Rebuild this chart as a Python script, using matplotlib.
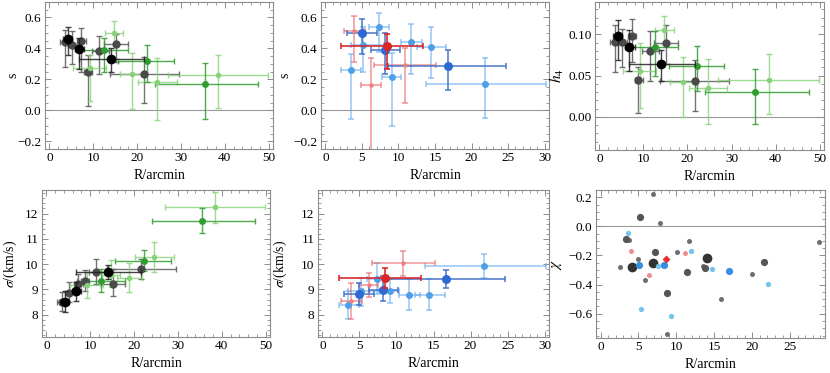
import matplotlib
matplotlib.use("Agg")
import matplotlib.pyplot as plt
from matplotlib.ticker import AutoMinorLocator, MultipleLocator
import numpy as np

plt.rcParams['font.family'] = ['Liberation Serif', 'DejaVu Serif']
plt.rcParams['mathtext.fontset'] = 'stix'

# ---------------- data: left/right panels (R in arcmin) ----------------
# black (large) group
B_R = [4.2, 6.8, 14.1]
B_Rlo = [3.2, 5.9, 6.8]
B_Rhi = [5.2, 8.0, 21.6]
B_s = [0.459, 0.395, 0.331]
B_s_lo = [0.355, 0.27, 0.245]
B_s_hi = [0.537, 0.47, 0.405]
B_h4 = [0.0976, 0.0846, 0.0644]
B_h4_lo = [0.069, 0.055, 0.044]
B_h4_hi = [0.117, 0.105, 0.081]
B_sig = [8.51, 8.92, 9.69]
B_sig_lo = [8.09, 8.55, 9.40]
B_sig_hi = [8.94, 9.31, 9.95]

# dark grey group
G_R = [3.5, 5.2, 7.3, 8.8, 11.4, 15.1, 21.6]
G_Rlo = [2.5, 4.2, 6.4, 8.0, 9.7, 12.4, 13.8]
G_Rhi = [4.3, 6.3, 8.3, 9.8, 13.5, 17.9, 29.5]
G_s = [0.444, 0.423, 0.450, 0.248, 0.384, 0.431, 0.237]
G_s_lo = [0.28, 0.30, 0.25, 0.03, 0.235, 0.31, 0.05]
G_s_hi = [0.52, 0.51, 0.53, 0.36, 0.48, 0.49, 0.345]
G_h4 = [0.0907, 0.0907, 0.098, 0.045, 0.080, 0.090, 0.043]
G_h4_lo = [0.054, 0.060, 0.066, 0.0045, 0.044, 0.064, 0.0077]
G_h4_hi = [0.111, 0.106, 0.118, 0.060, 0.104, 0.111, 0.069]
G_sig = [8.51, 8.85, 9.23, 9.34, 9.69, 9.20, 9.82]
G_sig_lo = [8.15, 8.50, 8.90, 8.95, 9.20, 8.75, 9.40]
G_sig_hi = [8.90, 9.30, 9.60, 9.75, 10.19, 9.80, 10.20]

# light green group
LG_R = [9.15, 14.75, 18.9, 24.6, 38.5]
LG_Rlo = [5.4, 12.6, 16.0, 20.3, 27.0]
LG_Rhi = [12.9, 16.9, 21.9, 29.0, 49.8]
LG_s = [0.273, 0.50, 0.233, 0.186, 0.23]
LG_s_lo = [0.06, 0.43, 0.006, -0.06, 0.015]
LG_s_hi = [0.36, 0.575, 0.37, 0.34, 0.36]
LG_h4 = [0.055, 0.105, 0.042, 0.035, 0.045]
LG_h4_lo = [0.011, 0.088, 0.0, -0.008, 0.004]
LG_h4_hi = [0.089, 0.122, 0.073, 0.070, 0.076]
LG_sig = [9.19, 9.57, 9.46, 10.30, 12.25]
LG_sig_lo = [8.68, 9.08, 8.88, 9.70, 11.63]
LG_sig_hi = [9.67, 10.16, 10.06, 10.87, 12.84]

# medium green group
MG_R = [12.55, 22.2, 35.4]
MG_Rlo = [7.0, 15.7, 24.0]
MG_Rhi = [17.9, 28.4, 47.5]
MG_s = [0.393, 0.32, 0.173]
MG_s_lo = [0.25, 0.18, -0.055]
MG_s_hi = [0.47, 0.42, 0.305]
MG_h4 = [0.0846, 0.0615, 0.030]
MG_h4_lo = [0.049, 0.031, -0.009]
MG_h4_hi = [0.104, 0.086, 0.058]
MG_sig = [9.35, 10.12, 11.72]
MG_sig_lo = [8.90, 9.73, 11.24]
MG_sig_hi = [9.82, 10.56, 12.20]

# ---------------- data: middle panels ----------------
DB_R = [4.95, 8.2, 16.75]
DB_Rlo = [2.9, 6.3, 8.6]
DB_Rhi = [7.0, 10.2, 24.7]
DB_s = [0.50, 0.39, 0.286]
DB_s_lo = [0.365, 0.237, 0.13]
DB_s_hi = [0.59, 0.50, 0.39]
DB_sig = [8.81, 8.97, 9.40]
DB_sig_lo = [8.37, 8.53, 9.06]
DB_sig_hi = [9.25, 9.53, 9.78]

LB_R = [3.46, 5.2, 7.4, 9.1, 11.65, 14.4, 21.85]
LB_Rlo = [2.2, 3.5, 6.0, 7.7, 10.3, 12.5, 13.8]
LB_Rhi = [4.9, 8.0, 8.7, 10.3, 13.2, 16.5, 30.2]
LB_s = [0.263, 0.423, 0.536, 0.213, 0.44, 0.41, 0.169]
LB_s_lo = [-0.058, 0.248, 0.376, -0.10, 0.237, 0.21, -0.05]
LB_s_hi = [0.365, 0.536, 0.632, 0.37, 0.557, 0.537, 0.335]
LB_sig = [8.38, 8.94, 9.43, 8.94, 8.79, 8.79, 9.93]
LB_sig_lo = [7.84, 8.33, 8.80, 8.46, 8.20, 8.20, 9.45]
LB_sig_hi = [8.94, 9.46, 10.03, 9.42, 9.40, 9.40, 10.42]

RD_R = [8.42]
RD_Rlo = [2.2]
RD_Rhi = [13.3]
RD_s = [0.418]
RD_s_lo = [0.27]
RD_s_hi = [0.49]
RD_sig = [9.44]
RD_sig_lo = [9.04]
RD_sig_hi = [9.83]

PK_R = [3.87, 6.28, 10.83]
PK_Rlo = [2.5, 4.9, 6.7]
PK_Rhi = [5.4, 7.55, 15.2]
PK_s = [0.515, 0.162, 0.29]
PK_s_lo = [0.31, -0.30, 0.045]
PK_s_hi = [0.61, 0.335, 0.40]
PK_sig = [8.55, 9.19, 10.06]
PK_sig_lo = [7.82, 8.72, 9.55]
PK_sig_hi = [9.25, 9.63, 10.53]

# ---------------- data: chi panel ----------------
chi_gs_R = [6.87, 7.83, 2.55, 3.79, 4.89, 5.85, 10.08, 11.62, 13.56, 15.85, 19.98, 28.87, 8.8]
chi_gs = [0.22, 0.026, -0.278, -0.095, -0.227, -0.369, -0.177, -0.102, -0.269, -0.499, -0.328, -0.109, -0.737]
chi_gm_R = [5.15, 3.35, 7.17, 11.44, 8.76, 13.73, 21.52]
chi_gm = [0.063, -0.09, -0.179, -0.314, -0.458, -0.287, -0.248]
chi_bk_R = [4.18, 6.95, 14.08]
chi_bk = [-0.28, -0.25, -0.218]
chi_lb_R = [3.57, 7.53, 11.88, 14.66, 5.33, 9.24, 22.14]
chi_lb = [-0.047, -0.269, -0.17, -0.291, -0.568, -0.618, -0.399]
chi_db_R = [5.06, 8.41, 16.95]
chi_db = [-0.264, -0.264, -0.307]
chi_pk_R = [3.96, 6.38, 11.09]
chi_pk = [-0.166, -0.337, -0.186]
chi_rd_R = [8.58]
chi_rd = [-0.227]

# ---------------- styles ----------------
C_BLACK = '#000000'
C_GREY = '#4a4a4a'
C_LG = '#86d279'
C_MG = '#2f9e2f'
C_DB = '#2e6ad2'
C_LB = '#4d9fe6'
C_RD = '#d8262b'
C_PK = '#ee7f7f'
FRAME = '#8c8c8c'

W, H = 830, 373
fig = plt.figure(figsize=(W / 100, H / 100), dpi=100)


def box(l, r, t, b):
    return [l / W, 1 - b / H, (r - l) / W, (b - t) / H]


def style(ax, xmaj, xmin_n, ymaj, ymin_n, xlim, ylim):
    ax.set_xlim(*xlim)
    ax.set_ylim(*ylim)
    ax.xaxis.set_major_locator(MultipleLocator(xmaj))
    ax.yaxis.set_major_locator(MultipleLocator(ymaj))
    ax.xaxis.set_minor_locator(AutoMinorLocator(xmin_n))
    ax.yaxis.set_minor_locator(AutoMinorLocator(ymin_n))
    ax.tick_params(which='both', direction='in', top=True, right=True,
                   color=FRAME, labelsize=9.5, pad=2.5)
    ax.tick_params(which='major', length=4, width=0.7)
    ax.tick_params(which='minor', length=2, width=0.6)
    for sp in ax.spines.values():
        sp.set_color(FRAME)
        sp.set_linewidth(0.8)
    ax.set_xlabel('R/arcmin', fontsize=10, labelpad=3)
    ax.set_facecolor('white')


def eb(ax, R, Rlo, Rhi, y, ylo, yhi, color, ecolor, ms, lw=1.0, ealpha=1.0, z=3):
    R = np.asarray(R); y = np.asarray(y)
    xerr = [R - np.asarray(Rlo), np.asarray(Rhi) - R]
    yerr = [y - np.asarray(ylo), np.asarray(yhi) - y]
    ax.errorbar(R, y, xerr=xerr, yerr=yerr, fmt='none', ecolor=ecolor,
                elinewidth=lw, capsize=2, capthick=lw, alpha=ealpha, zorder=z)
    ax.plot(R, y, 'o', color=color, ms=ms, mec='none', zorder=z + 1)


def left_panel(ax, key):
    eb(ax, G_R, G_Rlo, G_Rhi, *key['G'], C_GREY, '#5a5a5a', 6.0, ealpha=0.85)
    eb(ax, LG_R, LG_Rlo, LG_Rhi, *key['LG'], C_LG, C_LG, 4.0, ealpha=0.8)
    eb(ax, MG_R, MG_Rlo, MG_Rhi, *key['MG'], C_MG, C_MG, 5.0, ealpha=0.85)
    eb(ax, B_R, B_Rlo, B_Rhi, *key['B'], C_BLACK, '#222222', 7.0, ealpha=0.85, z=5)


def mid_panel(ax, key):
    eb(ax, LB_R, LB_Rlo, LB_Rhi, *key['LB'], C_LB, '#6aaef0', 5.0, lw=1.4, ealpha=0.55)
    eb(ax, PK_R, PK_Rlo, PK_Rhi, *key['PK'], C_PK, '#e86060', 3.2, lw=1.2, ealpha=0.6)
    eb(ax, DB_R, DB_Rlo, DB_Rhi, *key['DB'], C_DB, '#3f6fc8', 6.5, lw=1.3, ealpha=0.8)
    eb(ax, RD_R, RD_Rlo, RD_Rhi, *key['RD'], C_RD, C_RD, 6.5, lw=1.3, ealpha=0.9, z=6)


# Panel 1: s vs R (0-50)
ax1 = fig.add_axes(box(45, 273, 2, 149))
left_panel(ax1, {'G': (G_s, G_s_lo, G_s_hi), 'LG': (LG_s, LG_s_lo, LG_s_hi),
                 'MG': (MG_s, MG_s_lo, MG_s_hi), 'B': (B_s, B_s_lo, B_s_hi)})
ax1.axhline(0, color='#999999', lw=0.8, zorder=1)
style(ax1, 10, 5, 0.2, 4, (-1, 51), (-0.25, 0.70))
ax1.set_ylabel('s', fontsize=10)
ax1.yaxis.set_label_coords(-0.114, 0.5)

# Panel 2: s vs R (0-30)
ax2 = fig.add_axes(box(321, 549, 2, 149))
mid_panel(ax2, {'LB': (LB_s, LB_s_lo, LB_s_hi), 'PK': (PK_s, PK_s_lo, PK_s_hi),
                'DB': (DB_s, DB_s_lo, DB_s_hi), 'RD': (RD_s, RD_s_lo, RD_s_hi)})
ax2.axhline(0, color='#999999', lw=0.8, zorder=1)
style(ax2, 5, 5, 0.2, 4, (-0.6, 30.6), (-0.25, 0.70))
ax2.set_ylabel('s', fontsize=10)
ax2.yaxis.set_label_coords(-0.13, 0.5)

# Panel 3: h4 vs R
ax3 = fig.add_axes(box(595, 824, 2, 150))
left_panel(ax3, {'G': (G_h4, G_h4_lo, G_h4_hi), 'LG': (LG_h4, LG_h4_lo, LG_h4_hi),
                 'MG': (MG_h4, MG_h4_lo, MG_h4_hi), 'B': (B_h4, B_h4_lo, B_h4_hi)})
ax3.axhline(0, color='#999999', lw=0.8, zorder=1)
style(ax3, 10, 5, 0.05, 5, (-1, 51), (-0.04, 0.139))
ax3.yaxis.set_major_formatter(matplotlib.ticker.FormatStrFormatter('%.2f'))
ax3.set_ylabel('$h_4$', fontsize=11)
ax3.yaxis.set_label_coords(-0.125, 0.5)

# Panel 4: sigma vs R (0-50)
ax4 = fig.add_axes(box(42, 270, 190, 337))
left_panel(ax4, {'G': (G_sig, G_sig_lo, G_sig_hi), 'LG': (LG_sig, LG_sig_lo, LG_sig_hi),
                 'MG': (MG_sig, MG_sig_lo, MG_sig_hi), 'B': (B_sig, B_sig_lo, B_sig_hi)})
style(ax4, 10, 5, 1, 5, (-1, 51), (7.12, 12.93))
ax4.set_ylabel(r'$\sigma$/(km/s)', fontsize=10)
ax4.yaxis.set_label_coords(-0.10, 0.5)

# Panel 5: sigma vs R (0-30)
ax5 = fig.add_axes(box(318, 549, 190, 337))
mid_panel(ax5, {'LB': (LB_sig, LB_sig_lo, LB_sig_hi), 'PK': (PK_sig, PK_sig_lo, PK_sig_hi),
                'DB': (DB_sig, DB_sig_lo, DB_sig_hi), 'RD': (RD_sig, RD_sig_lo, RD_sig_hi)})
style(ax5, 5, 5, 1, 5, (-0.6, 30.6), (7.12, 12.93))
ax5.set_ylabel(r'$\sigma$/(km/s)', fontsize=10)
ax5.yaxis.set_label_coords(-0.125, 0.5)

# Panel 6: chi vs R
ax6 = fig.add_axes(box(596, 825, 190, 338))
ax6.axhline(0, color='#999999', lw=0.8, zorder=1)
ax6.plot(chi_gs_R, chi_gs, 'o', color='#6e6e6e', ms=3.6, mec='none', zorder=3)
ax6.plot(chi_gm_R, chi_gm, 'o', color='#555555', ms=5.2, mec='none', zorder=3)
ax6.plot(chi_bk_R, chi_bk, 'o', color='#333333', ms=7.0, mec='none', zorder=4)
ax6.plot(chi_lb_R, chi_lb, 'o', color='#72c6ec', ms=3.8, mec='none', zorder=4)
ax6.plot(chi_db_R, chi_db, 'o', color='#3a8ee2', ms=5.2, mec='none', zorder=4)
ax6.plot(chi_pk_R, chi_pk, 'o', color='#ec8f8f', ms=3.6, mec='none', zorder=4)
ax6.plot(chi_rd_R, chi_rd, 'D', color='#e83232', ms=4.5, mec='none', zorder=5)
style(ax6, 5, 5, 0.2, 4, (-0.6, 29.6), (-0.767, 0.25))
ax6.set_ylabel(r'$\chi$', fontsize=11)
ax6.yaxis.set_label_coords(-0.14, 0.5)

fig.savefig('out.png', dpi=100, facecolor='white')
